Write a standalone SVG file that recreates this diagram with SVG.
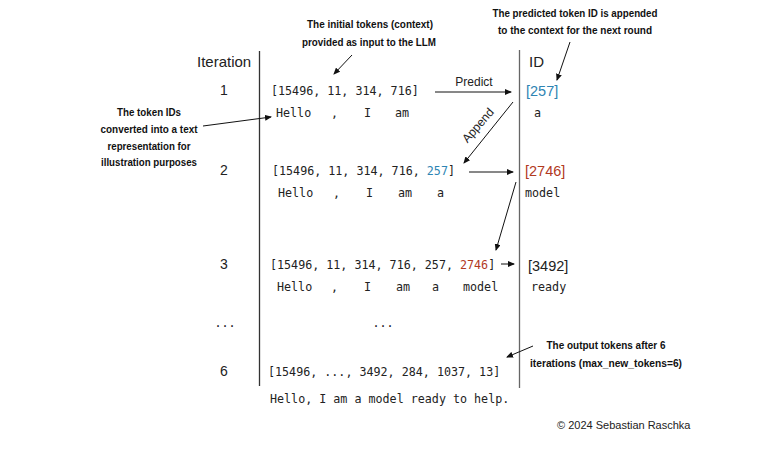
<svg xmlns="http://www.w3.org/2000/svg" width="770" height="449" viewBox="0 0 770 449">
<style>
.mono{font-family:"DejaVu Sans Mono","Liberation Mono",monospace;font-size:11.7px;fill:#222}
.sans{font-family:"Liberation Sans",Arial,sans-serif;fill:#222}
.note{font-family:"Liberation Sans",Arial,sans-serif;font-weight:bold;font-size:10.5px;fill:#111;text-anchor:middle}
.blue{fill:#2e84b3}
.red{fill:#b23a1f}
.conn{stroke:#111;stroke-width:1;fill:none;marker-end:url(#ah)}
</style>
<defs>
<marker id="ah" markerWidth="7" markerHeight="6" refX="6" refY="3" orient="auto" markerUnits="userSpaceOnUse">
<path d="M0,0 L7,3 L0,6 Z" fill="#111"/>
</marker>
</defs>
<rect width="770" height="449" fill="#fff"/>

<g id="axes">
<line x1="259.5" y1="51" x2="259.5" y2="386" stroke="#333" stroke-width="1.3"/>
<line x1="519.5" y1="50" x2="519.5" y2="388" stroke="#666" stroke-width="1.3"/>
<text class="sans" x="197" y="67" font-size="15">Iteration</text>
<text class="sans" x="529" y="67" font-size="15">ID</text>
</g>

<g id="iter1">
<text class="sans" x="224" y="95" font-size="14" text-anchor="middle">1</text>
<text class="mono" x="271" y="95">[15496, 11, 314, 716]</text>
<text class="mono" x="276" y="117">Hello</text>
<text class="mono" x="331" y="117">,</text>
<text class="mono" x="364" y="117">I</text>
<text class="mono" x="395" y="117">am</text>
<text class="sans blue" x="526" y="96" font-size="14.5">[257]</text>
<text class="mono" x="534" y="117">a</text>
</g>

<g id="iter2">
<text class="sans" x="224" y="175" font-size="14" text-anchor="middle">2</text>
<text class="mono" x="272" y="175">[15496, 11, 314, 716, <tspan class="blue">257</tspan>]</text>
<text class="mono" x="278" y="197">Hello</text>
<text class="mono" x="333" y="197">,</text>
<text class="mono" x="366" y="197">I</text>
<text class="mono" x="398" y="197">am</text>
<text class="mono" x="437" y="197">a</text>
<text class="sans red" x="525" y="176" font-size="14.5">[2746]</text>
<text class="mono" x="525" y="197">model</text>
</g>

<g id="iter3">
<text class="sans" x="224" y="269" font-size="14" text-anchor="middle">3</text>
<text class="mono" x="270" y="269">[15496, 11, 314, 716, 257, <tspan class="red">2746</tspan>]</text>
<text class="mono" x="277" y="291">Hello</text>
<text class="mono" x="331" y="291">,</text>
<text class="mono" x="364" y="291">I</text>
<text class="mono" x="396" y="291">am</text>
<text class="mono" x="432" y="291">a</text>
<text class="mono" x="463" y="291">model</text>
<text class="sans" x="528" y="271" font-size="14.5">[3492]</text>
<text class="mono" x="531" y="291">ready</text>
</g>

<g id="ellipsis">
<text class="mono" x="225" y="327" text-anchor="middle">...</text>
<text class="mono" x="383" y="327" text-anchor="middle">...</text>
</g>

<g id="iter6">
<text class="sans" x="224" y="376" font-size="14" text-anchor="middle">6</text>
<text class="mono" x="268" y="376">[15496, ..., 3492, 284, 1037, 13]</text>
<text class="mono" x="270" y="403">Hello, I am a model ready to help.</text>
</g>

<g id="note-initial">
<text class="note" x="370" y="28" textLength="126" lengthAdjust="spacingAndGlyphs">The initial tokens (context)</text>
<text class="note" x="369" y="46" textLength="134" lengthAdjust="spacingAndGlyphs">provided as input to the LLM</text>
</g>

<g id="note-predicted">
<text class="note" x="575" y="17" textLength="165" lengthAdjust="spacingAndGlyphs">The predicted token ID is appended</text>
<text class="note" x="575" y="34" textLength="154" lengthAdjust="spacingAndGlyphs">to the context for the next round</text>
</g>

<g id="note-ids">
<text class="note" x="149" y="116" textLength="64" lengthAdjust="spacingAndGlyphs">The token IDs</text>
<text class="note" x="149" y="133" textLength="97" lengthAdjust="spacingAndGlyphs">converted into a text</text>
<text class="note" x="149" y="150" textLength="83" lengthAdjust="spacingAndGlyphs">representation for</text>
<text class="note" x="149" y="166" textLength="96" lengthAdjust="spacingAndGlyphs">illustration purposes</text>
</g>

<g id="note-output">
<text class="note" x="606" y="349" textLength="119" lengthAdjust="spacingAndGlyphs">The output tokens after 6</text>
<text class="note" x="606" y="367" textLength="152" lengthAdjust="spacingAndGlyphs">iterations (max_new_tokens=6)</text>
</g>

<g id="copyright">
<text class="sans" x="557" y="429" font-size="11">© 2024 Sebastian Raschka</text>
</g>

<g id="connectors">
<line class="conn" x1="435" y1="92" x2="511" y2="92"/>
<text class="sans" x="474" y="86" font-size="12" text-anchor="middle">Predict</text>
<line class="conn" x1="513" y1="102" x2="464" y2="163"/>
<text class="sans" x="481" y="128" font-size="12" text-anchor="middle" transform="rotate(-49 481 128)">Append</text>
<line class="conn" x1="469" y1="172" x2="513" y2="172"/>
<line class="conn" x1="516" y1="182" x2="496" y2="250"/>
<line class="conn" x1="501" y1="264" x2="514" y2="264"/>
<line class="conn" x1="352" y1="55" x2="334" y2="74"/>
<line class="conn" x1="570" y1="42" x2="557" y2="80"/>
<line class="conn" x1="203" y1="126" x2="271" y2="117"/>
<line class="conn" x1="533" y1="346" x2="507" y2="357"/>
</g>
</svg>
